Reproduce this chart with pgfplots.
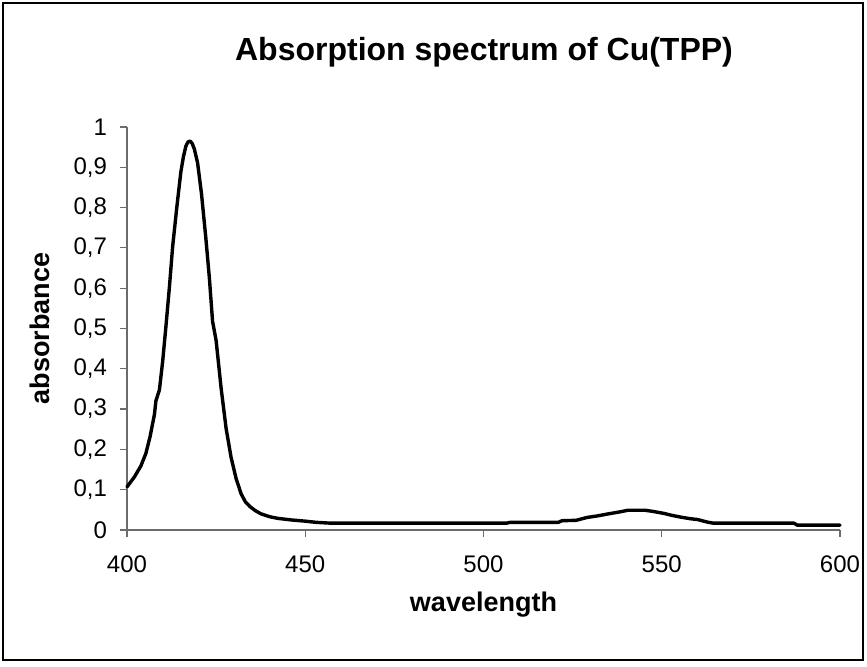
\documentclass[border=0pt]{standalone}
\usepackage{pgfplots}
\pgfplotsset{compat=1.18}
\usepackage{fontspec}
\setmainfont{Liberation Sans}
\begin{document}
\begin{tikzpicture}[x=1pt,y=1pt]
\path (0,0) rectangle (433.5,333.5);
\draw[black,line width=0.9pt] (1.5,3.5) rectangle (431.5,332);
\node[font=\fontsize{16}{19}\selectfont\bfseries] at (242,307.5) {Absorption spectrum of Cu(TPP)};
\begin{axis}[
  at={(63.5pt,68.5pt)}, anchor=south west,
  width=356.5pt, height=201.5pt, scale only axis,
  xmin=400, xmax=600, ymin=0, ymax=1,
  axis lines*=left,
  axis line style={draw=gray!85!black, line width=0.6pt},
  tick style={draw=gray!85!black, line width=0.6pt},
  tick align=outside, major tick length=3.5pt,
  xtick={400,450,500,550,600},
  ytick={0,0.1,0.2,0.3,0.4,0.5,0.6,0.7,0.8,0.9,1},
  /pgf/number format/assume math mode=true,
  /pgf/number format/use comma,
  /pgf/number format/1000 sep={},
  ticklabel style={font=\fontsize{12}{14}\selectfont},
  xticklabel style={yshift=-6pt},
  yticklabel style={xshift=-3pt},
  xlabel={\bfseries wavelength},
  ylabel={\bfseries absorbance},
  label style={font=\fontsize{13.5}{16}\selectfont},
  xlabel style={at={(axis description cs:0.5,-0.186)}, anchor=center},
  ylabel style={at={(axis description cs:-0.122,0.5)}, anchor=center},
  clip=false,
]
\addplot[black, line width=1.7pt, line join=round, line cap=round] coordinates {
(400,0.107) (402.1,0.132) (403.9,0.159) (405.3,0.19) (406.5,0.233) (407.7,0.287)
(408.1,0.320) (409.1,0.348) (410.0,0.418) (410.9,0.503) (411.9,0.603) (412.8,0.703)
(414.0,0.803) (415.1,0.888) (415.8,0.925) (416.5,0.952) (417.1,0.963) (417.7,0.965)
(418.3,0.959) (418.9,0.945) (419.8,0.911)
(420.9,0.834) (422.1,0.726) (423.1,0.626) (424.0,0.518) (425.0,0.470) (426.4,0.352)
(427.8,0.252) (429.2,0.180) (430.6,0.128) (432.0,0.090) (433.2,0.070) (434.5,0.058)
(436.0,0.048) (437.6,0.040) (440,0.033) (442.2,0.029) (446,0.025) (449.9,0.022)
(453,0.019) (457,0.017) (480,0.017) (506.5,0.017) (507.5,0.019) (521,0.019)
(522,0.023) (526,0.024) (529,0.031) (532,0.035) (535,0.040) (538.3,0.045)
(540.5,0.049) (545.3,0.049) (547.6,0.046) (550.7,0.041) (553,0.036) (555.3,0.032)
(558,0.028) (560,0.026) (563.1,0.019) (564.5,0.017) (587.1,0.017) (588,0.012) (600,0.012)
};
\end{axis}
\end{tikzpicture}
\end{document}
